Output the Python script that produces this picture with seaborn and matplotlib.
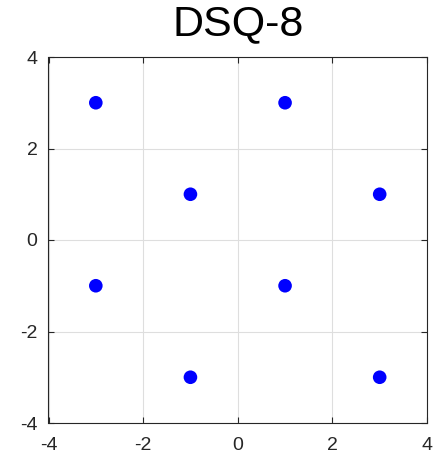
import matplotlib
matplotlib.use("Agg")
import matplotlib.pyplot as plt
import seaborn as sns
import pandas as pd

x_vals = [-3, 1, -1, 3, -3, 1, -1, 3]
y_vals = [3, 3, 1, 1, -1, -1, -3, -3]
ticks = [-4, -2, 0, 2, 4]
title = "DSQ-8"

sns.set_theme(style="white")
plt.rcParams['font.family'] = ['Liberation Sans', 'DejaVu Sans']

df = pd.DataFrame({"x": x_vals, "y": y_vals})

fig = plt.figure(figsize=(4.35, 4.62), dpi=100)
ax = fig.add_axes([48.5/435, 39/462, (427-48.5)/435, (423-57)/462])
sns.scatterplot(data=df, x="x", y="y", ax=ax, color="#0000ff", s=96,
                edgecolor="none", zorder=3)
ax.set_xlim(-4, 4)
ax.set_ylim(-4, 4)
ax.set_xticks(ticks)
ax.set_yticks(ticks)
ax.set_xticklabels([str(t) for t in ticks])
ax.set_yticklabels([str(t) for t in ticks])
ax.grid(True, color="#dedede", linewidth=0.8)
ax.set_axisbelow(True)
for s in ax.spines.values():
    s.set_visible(True)
    s.set_color("#262626")
    s.set_linewidth(0.8)
ax.tick_params(axis="both", direction="in", length=4, width=0.8, color="#262626",
               labelsize=14, labelcolor="#262626", top=True, right=True,
               bottom=True, left=True, pad=8)
ax.tick_params(axis="x", pad=10)
ax.set_xlabel("")
ax.set_ylabel("")
ax.set_title(title, fontsize=31, color="black", pad=16)
fig.savefig("out.png", dpi=100)
